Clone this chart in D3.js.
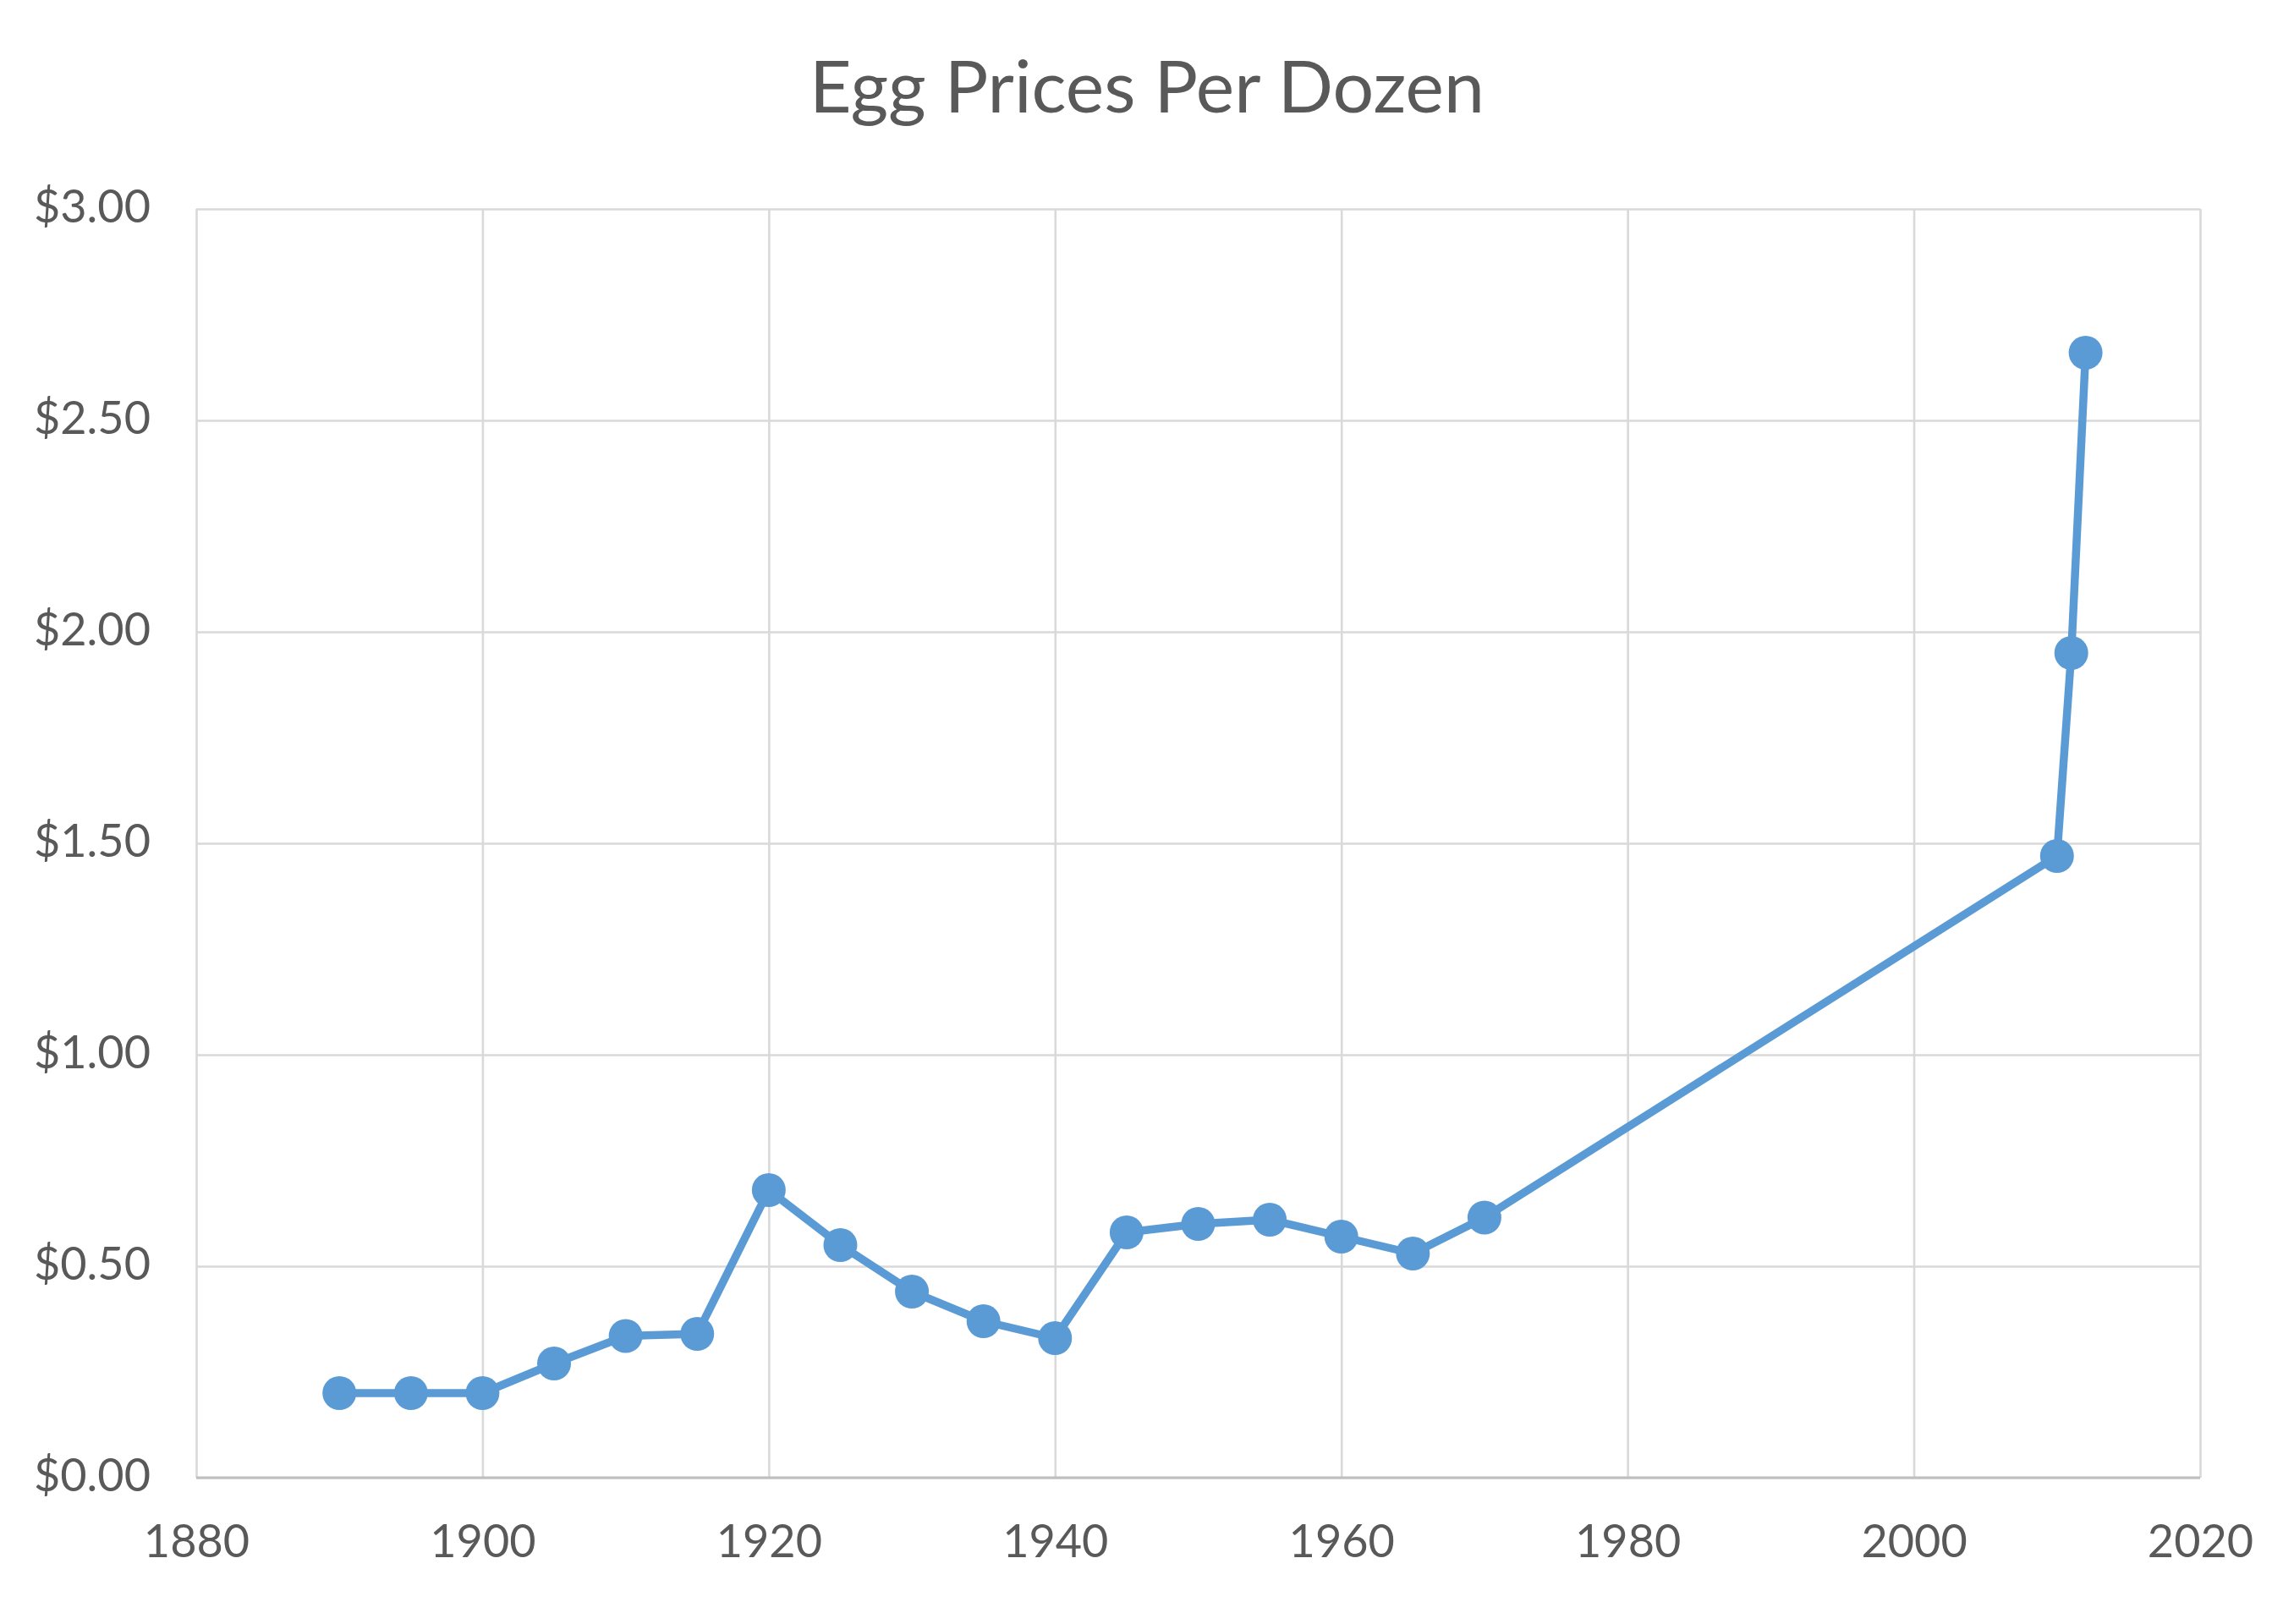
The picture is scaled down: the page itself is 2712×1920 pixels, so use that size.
<!DOCTYPE html>
<html>
<head>
<meta charset="utf-8">
<script src="https://cdn.jsdelivr.net/npm/d3@7"></script>
<style>
  html, body { margin: 0; padding: 0; background: #ffffff; }
  svg { display: block; }
  text { font-family: Lato, "Open Sans", sans-serif; fill: #595959; }
</style>
</head>
<body>
<script>
// ---- data ----
const years  = [1890, 1895, 1900, 1905, 1910, 1915, 1920, 1925, 1930, 1935, 1940, 1945, 1950, 1955, 1960, 1965, 1970, 2010, 2011, 2012];
const prices = [0.20, 0.20, 0.20, 0.27, 0.335, 0.34, 0.68, 0.55, 0.44, 0.37, 0.33, 0.58, 0.60, 0.61, 0.57, 0.53, 0.615, 1.47, 1.95, 2.66];
const xTicks = [1880, 1900, 1920, 1940, 1960, 1980, 2000, 2020];
const yTicks = [0, 0.5, 1.0, 1.5, 2.0, 2.5, 3.0];
const title = "Egg Prices Per Dozen";

// ---- layout ----
const W = 2712, H = 1920;
const m = { left: 232, right: 111, top: 247, bottom: 173 };
const iw = W - m.left - m.right, ih = H - m.top - m.bottom;

const svg = d3.select("body").append("svg").attr("width", W).attr("height", H);
svg.append("rect").attr("width", W).attr("height", H).attr("fill", "#fff");

const x = d3.scaleLinear().domain([1880, 2020]).range([0, iw]);
const y = d3.scaleLinear().domain([0, 3]).range([ih, 0]);

const g = svg.append("g").attr("transform", `translate(${m.left},${m.top})`);

// horizontal gridlines + y labels
const yAxis = g.append("g")
  .call(d3.axisLeft(y).tickValues(yTicks).tickSize(-iw).tickPadding(54)
    .tickFormat(d => "$" + d3.format(".2f")(d)));
yAxis.select(".domain").remove();
yAxis.selectAll(".tick line").attr("stroke", "#d9d9d9").attr("stroke-width", 2.6);
yAxis.selectAll(".tick text")
  .attr("font-size", 54).attr("fill", "#595959")
  .attr("dy", "0.28em")
  .style("font-family", "Lato, sans-serif");

// vertical gridlines + x labels
const xAxis = g.append("g").attr("transform", `translate(0,${ih})`)
  .call(d3.axisBottom(x).tickValues(xTicks).tickSize(-ih).tickPadding(56)
    .tickFormat(d3.format("d")));
xAxis.select(".domain").remove();
xAxis.selectAll(".tick line").attr("stroke", "#d9d9d9").attr("stroke-width", 2.6);
xAxis.selectAll(".tick text")
  .attr("font-size", 54).attr("fill", "#595959")
  .attr("dy", "0.71em")
  .style("font-family", "Lato, sans-serif");

// bottom axis line (slightly darker)
g.append("line")
  .attr("x1", x(1880)).attr("x2", x(2020))
  .attr("y1", y(0)).attr("y2", y(0))
  .attr("stroke", "#bfbfbf").attr("stroke-width", 3);

// series line
const color = "#5b9bd5";
g.append("path")
  .datum(years.map((yr, i) => [yr, prices[i]]))
  .attr("fill", "none")
  .attr("stroke", color)
  .attr("stroke-width", 9.5)
  .attr("stroke-linejoin", "round")
  .attr("d", d3.line().x(d => x(d[0])).y(d => y(d[1])));

// markers
g.selectAll("circle.pt")
  .data(years.map((yr, i) => [yr, prices[i]]))
  .join("circle")
  .attr("class", "pt")
  .attr("cx", d => x(d[0]))
  .attr("cy", d => y(d[1]))
  .attr("r", 20)
  .attr("fill", color);

// title
svg.append("text")
  .attr("x", W / 2).attr("y", 133)
  .attr("text-anchor", "middle")
  .attr("font-size", 86)
  .attr("fill", "#595959")
  .text(title);
</script>
</body>
</html>
